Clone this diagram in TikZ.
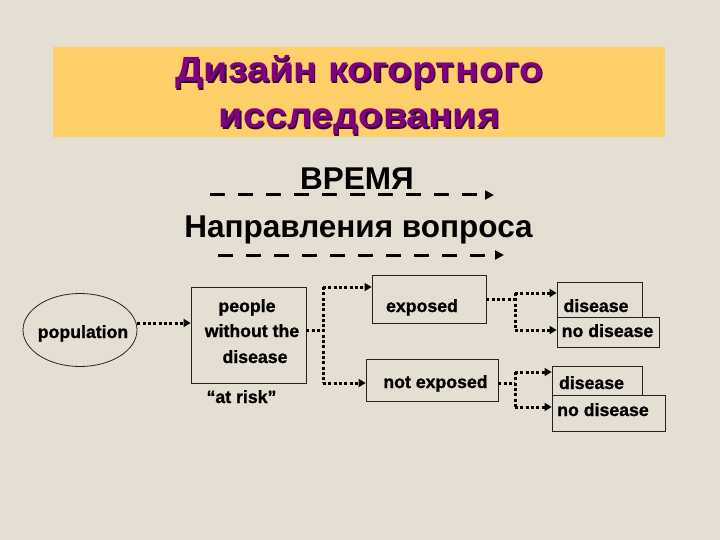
\documentclass[tikz,border=0pt]{standalone}
\usepackage{fontspec}
\setmainfont{Liberation Sans}
\newfontfamily\titlefont[FakeStretch=1.13]{Liberation Sans}
\newfontfamily\lblfont[BoldFeatures={FakeBold=1.2}]{Liberation Sans}
\usetikzlibrary{arrows.meta,shapes.geometric}
\definecolor{bg}{RGB}{229,223,211}
\definecolor{titlebg}{RGB}{255,207,106}
\definecolor{titlefg}{RGB}{128,0,128}
\definecolor{boxline}{RGB}{35,35,35}
\begin{document}
\begin{tikzpicture}[x=1pt,y=-1pt,
  lbl/.style={font=\lblfont\fontsize{17.7}{20}\selectfont\bfseries, inner sep=0pt, anchor=base, text=black},
  bigl/.style={font=\fontsize{31.5}{34}\selectfont\bfseries, inner sep=0pt, anchor=base, text=black},
  ttl/.style={font=\titlefont\fontsize{35}{38}\selectfont\bfseries, inner sep=0pt, anchor=base, text=titlefg},
  ttlsh/.style={ttl, text=titlefg!45!black},
  boxn/.style={draw=boxline, line width=0.8pt, inner sep=0pt},
  dotl/.style={line width=3pt, dash pattern=on 3pt off 2.3pt, draw=black},
  dota/.style={dotl, -{Triangle[length=7pt,width=8pt]}},
  dasha/.style={line width=3pt, dash pattern=on 15pt off 13pt, draw=black, -{Triangle[length=9pt,width=9pt]}}]
\useasboundingbox (0,0) rectangle (720,540);
\fill[bg] (0,0) rectangle (720,540);
% title
\node[fill=titlebg, minimum width=612pt, minimum height=90pt, inner sep=0pt] (titlebox) at (359,92) {};
\node[ttlsh] (t1s) at (360.7,83.2) {Дизайн когортного};
\node[ttl] (t1) at (359.5,82) {Дизайн когортного};
\node[ttlsh] (t2s) at (360.7,129.2) {исследования};
\node[ttl] (t2) at (359.5,128) {исследования};
% time
\node[bigl] (vremya) at (357,190) {ВРЕМЯ};
\coordinate (d1a) at (210,195);
\coordinate (d1b) at (494,195);
\draw[dasha] (d1a) -- (d1b);
\node[bigl] (napr) at (358.5,237) {Направления вопроса};
\coordinate (d2a) at (218,255);
\coordinate (d2b) at (504,255);
\draw[dasha] (d2a) -- (d2b);
% shapes
\node[draw=boxline, line width=0.8pt, ellipse, minimum width=114pt, minimum height=73pt, inner sep=0pt] (pop) at (80,330) {};
\node[lbl] (poptxt) at (83,338) {population};
\node[boxn, minimum width=115pt, minimum height=96pt] (people) at (248.5,335) {};
\node[lbl] (p1) at (247,312) {people};
\node[lbl] (p2) at (252,337) {without the};
\node[lbl] (p3) at (255,363) {disease};
\node[lbl] (risk) at (241.5,403) {“at risk”};
\node[boxn, minimum width=114pt, minimum height=48pt] (exp) at (429,299) {};
\node[lbl] (exptxt) at (422,312) {exposed};
\node[boxn, minimum width=132pt, minimum height=42pt] (nexp) at (432,380) {};
\node[lbl] (nexptxt) at (435.5,388) {not exposed};
\node[boxn, minimum width=85pt, minimum height=35pt] (dis1) at (599.5,299.5) {};
\node[lbl] (dis1txt) at (596,312) {disease};
\node[boxn, minimum width=102pt, minimum height=30pt] (nodis1) at (608,332) {};
\node[lbl] (nodis1txt) at (607.5,337) {no disease};
\node[boxn, minimum width=90pt, minimum height=29pt] (dis2) at (597,380.5) {};
\node[lbl] (dis2txt) at (591.5,389) {disease};
\node[boxn, minimum width=113pt, minimum height=36pt] (nodis2) at (608.5,413) {};
\node[lbl] (nodis2txt) at (603,416) {no disease};
% connectors
\draw[dota] ([yshift=7pt]pop.east) -- ([yshift=7pt]pop.east -| people.west);
\coordinate (j1) at (323,330);
\coordinate (j1a) at (323,287);
\coordinate (j1b) at (323,383);
\draw[dotl] (people.east |- j1) -- (j1);
\draw[dotl] (j1a) -- (j1b);
\draw[dota] (j1a) -- (exp.west |- j1a);
\draw[dota] (j1b) -- (nexp.west |- j1b);
\coordinate (j2) at (515,299);
\coordinate (j2a) at (515,293);
\coordinate (j2b) at (515,330);
\draw[dotl] (exp.east) -- (j2);
\draw[dotl] (j2a) -- (j2b);
\draw[dota] (j2a) -- (dis1.west |- j2a);
\draw[dota] (j2b) -- (nodis1.west |- j2b);
\coordinate (j3) at (515,383);
\coordinate (j3a) at (515,372);
\coordinate (j3b) at (515,407);
\draw[dotl] (nexp.east |- j3) -- (j3);
\draw[dotl] (j3a) -- (j3b);
\draw[dota] (j3a) -- (dis2.west |- j3a);
\draw[dota] (j3b) -- (nodis2.west |- j3b);
\end{tikzpicture}
\end{document}
